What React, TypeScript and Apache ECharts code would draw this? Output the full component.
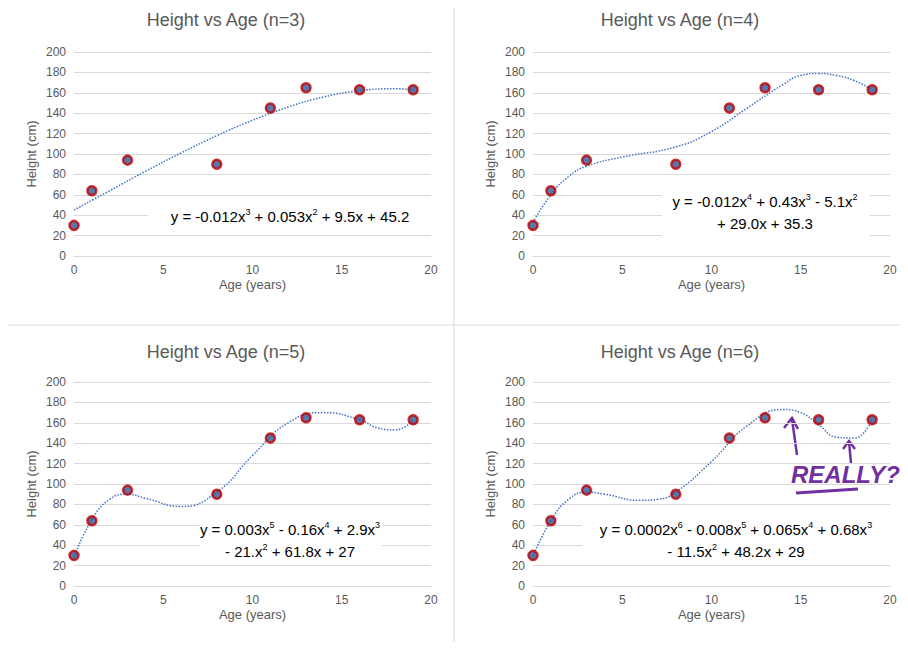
import * as echarts from "echarts";
import { useEffect, useRef } from "react";

const ages = [0, 1, 3, 8, 11, 13, 16, 19];
const heights = [30, 64, 94, 90, 145, 165, 163, 163];

// trend curves, [age, height]
const trend3 = [[0, 45], [2, 64], [4, 83], [6, 101], [8, 118], [10, 133], [12, 146], [14, 156], [16, 162], [18, 164], [19, 163]];
const trend4 = [[0, 33], [1, 60], [2, 78], [3, 88], [5, 97], [8, 107], [10, 122], [12, 145], [14, 168], [15, 177], [16, 179], [17, 177], [18, 172], [19, 163]];
const trend5 = [[0, 28], [1, 65], [2, 85], [3, 90], [4, 86], [6, 78], [8, 92], [10, 128], [12, 160], [14, 170], [16, 163], [17, 155], [18, 153], [19, 163]];
const trend6 = [[0, 29], [1, 64], [2, 85], [3, 92], [4, 90], [6, 84], [7, 85], [8, 92], [10, 122], [12, 157], [14, 173], [15, 170], [16, 158], [17, 146], [18, 145], [19, 164]];

const titles = ["Height vs Age (n=3)", "Height vs Age (n=4)", "Height vs Age (n=5)", "Height vs Age (n=6)"];
const trends = [trend3, trend4, trend5, trend6];

const font = "Liberation Sans";
const grey = "#595959";

export default function App() {
  const ref = useRef<HTMLDivElement>(null);

  useEffect(() => {
    if (!ref.current) return;
    const chart = echarts.init(ref.current, null, { renderer: "svg" });

    const lefts = [66, 525, 66, 525];
    const tops = [44, 44, 374, 374];

    const grids = lefts.map((l, i) => ({ left: l, top: tops[i], width: 357, height: 204 }));
    const xAxes = grids.map((_, i) => ({
      gridIndex: i, type: "value", min: 0, max: 20, interval: 5,
      name: "Age (years)", nameLocation: "middle", nameGap: 22,
      nameTextStyle: { color: grey, fontSize: 13, fontFamily: font },
      axisLine: { lineStyle: { color: "#d9d9d9" } }, axisTick: { show: false },
      splitLine: { show: false },
      axisLabel: { color: grey, fontSize: 12, fontFamily: font },
    }));
    const yAxes = grids.map((_, i) => ({
      gridIndex: i, type: "value", min: 0, max: 200, interval: 20,
      name: "Height (cm)", nameLocation: "middle", nameGap: 36,
      nameTextStyle: { color: grey, fontSize: 13, fontFamily: font },
      axisLine: { show: false }, axisTick: { show: false },
      splitLine: { lineStyle: { color: "#d9d9d9" } },
      axisLabel: { color: grey, fontSize: 12, fontFamily: font },
    }));

    const series: any[] = [];
    trends.forEach((t, i) => {
      series.push({
        type: "line", xAxisIndex: i, yAxisIndex: i, data: t, smooth: 0.5, z: 1,
        showSymbol: false, lineStyle: { color: "#4472c4", width: 1.5, type: "dotted" },
      });
      series.push({
        type: "scatter", xAxisIndex: i, yAxisIndex: i, z: 3,
        data: ages.map((a, k) => [a, heights[k]]), symbolSize: 9,
        itemStyle: { color: "#2f5597", borderColor: "#c00000", borderWidth: 2.5 },
      });
    });

    const rich = {
      t: { fontSize: 15, fontFamily: font, color: "#404040" },
      s: { fontSize: 9, fontFamily: font, color: "#404040", padding: [0, 0, 9, 0] },
    };
    const eq = (x: number, y: number, text: string) => ({
      type: "text", x, y, z: 10,
      style: { text, rich, align: "center", verticalAlign: "middle", lineHeight: 22, font: `15px ${font}` },
    });
    const box = (x: number, y: number, width: number, height: number) => ({
      type: "rect", z: 9, shape: { x, y, width, height }, style: { fill: "#fff" },
    });

    const purple = "#7030a0";
    const graphic: any[] = [
      { type: "line", shape: { x1: 446, y1: 0, x2: 446, y2: 634 }, style: { stroke: "#d9d9d9" } },
      { type: "line", shape: { x1: 0, y1: 317, x2: 892, y2: 317 }, style: { stroke: "#d9d9d9" } },
      ...titles.map((t, i) => ({
        type: "text", x: [218, 672, 218, 672][i], y: [12, 12, 344, 344][i],
        style: { text: t, font: `18px ${font}`, fill: grey, align: "center", verticalAlign: "middle" },
      })),
      box(140, 195, 284, 26),
      box(654, 180, 208, 48),
      box(192, 510, 182, 45),
      box(574, 510, 308, 45),
      eq(282, 208, "{t|y = -0.012x}{s|3}{t| + 0.053x}{s|2}{t| + 9.5x + 45.2}"),
      eq(757, 204, "{t|y = -0.012x}{s|4}{t| + 0.43x}{s|3}{t| - 5.1x}{s|2}\n{t|+ 29.0x + 35.3}"),
      eq(282, 532, "{t|y = 0.003x}{s|5}{t| - 0.16x}{s|4}{t| + 2.9x}{s|3}\n{t|- 21.x}{s|2}{t| + 61.8x + 27}"),
      eq(728, 532, "{t|y = 0.0002x}{s|6}{t| - 0.008x}{s|5}{t| + 0.065x}{s|4}{t| + 0.68x}{s|3}\n{t|- 11.5x}{s|2}{t| + 48.2x + 29}"),
      { type: "text", x: 783, y: 466, z: 11, style: { text: "REALLY?", font: `italic bold 24px "Comic Sans MS", ${font}`, fill: purple, align: "left", verticalAlign: "middle" } },
      { type: "polyline", shape: { points: [[789, 447], [784, 411]] }, style: { stroke: purple, lineWidth: 2.5 } },
      { type: "polyline", shape: { points: [[776, 420], [784, 410], [790, 421]] }, style: { stroke: purple, lineWidth: 2.5, fill: "none" } },
      { type: "polyline", shape: { points: [[843, 455], [841, 434]] }, style: { stroke: purple, lineWidth: 2.5 } },
      { type: "polyline", shape: { points: [[835, 441], [841, 433], [847, 441]] }, style: { stroke: purple, lineWidth: 2.5, fill: "none" } },
      { type: "polyline", shape: { points: [[788, 485], [850, 481]] }, style: { stroke: purple, lineWidth: 3 } },
    ];

    chart.setOption({
      animation: false,
      grid: grids,
      xAxis: xAxes,
      yAxis: yAxes,
      series,
      graphic,
    });

    return () => chart.dispose();
  }, []);

  return <div ref={ref} style={{ width: 892, height: 634 }} />;
}
